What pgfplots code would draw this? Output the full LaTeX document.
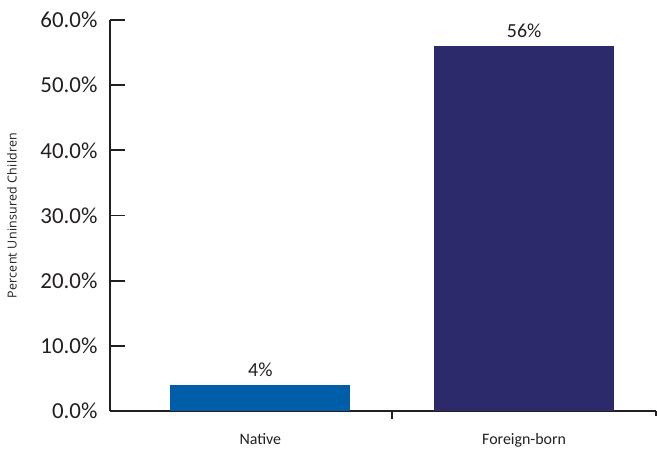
\documentclass[border=0pt]{standalone}
\usepackage{pgfplots}
\pgfplotsset{compat=1.18}
\usepackage{fontspec}
\setmainfont{Carlito}
\newfontfamily\labelfont[LetterSpace=2]{Open Sans}
\definecolor{nativeblue}{RGB}{0,94,168}
\definecolor{foreignnavy}{RGB}{44,42,106}
\definecolor{axisdark}{RGB}{35,31,32}
\begin{document}
\begin{tikzpicture}[x=1bp,y=1bp]
\path[use as bounding box] (-110,-39) rectangle (547,411);
\begin{axis}[
  at={(0,0)}, anchor=south west,
  scale only axis,
  width=546bp, height=391bp,
  xmin=0.43, xmax=2.5,
  ymin=0, ymax=60,
  axis x line*=bottom,
  axis y line*=left,
  axis line style={axisdark, line width=1.8bp},
  every tick/.style={axisdark, line width=1.8bp},
  tick align=inside,
  xtick={1,2},
  xticklabels={Native, Foreign-born},
  major x tick style={draw=none},
  extra x ticks={1.5},
  extra x tick labels={},
  extra x tick style={major tick length=8bp, major x tick style={draw=axisdark}},
  minor xtick={2.5},
  minor tick length=5bp,
  ytick={0,10,...,60},
  major tick length=15bp,
  yticklabel={\pgfmathprintnumber[fixed,fixed zerofill,precision=1]{\tick}\%},
  /pgf/number format/assume math mode=true,
  y tick label style={font=\fontsize{23}{25}\selectfont, text=axisdark, xshift=-9bp},
  x tick label style={font=\fontsize{16}{18}\selectfont, text=axisdark, yshift=-4bp},
  ybar, bar width=0.682,
  bar shift=0pt,
  nodes near coords={\pgfmathprintnumber{\pgfplotspointmeta}\%},
  every node near coord/.style={font=\fontsize{20}{22}\selectfont, text=axisdark, anchor=south, yshift=5bp},
  clip=false,
]
\addplot[fill=nativeblue, draw=none] coordinates {(1,4)};
\addplot[fill=foreignnavy, draw=none] coordinates {(2,56)};
\end{axis}
\node[rotate=90, font=\labelfont\fontsize{12.5}{14}\selectfont, text=axisdark] at (-98,195.5) {Percent Uninsured Children};
\end{tikzpicture}
\end{document}
